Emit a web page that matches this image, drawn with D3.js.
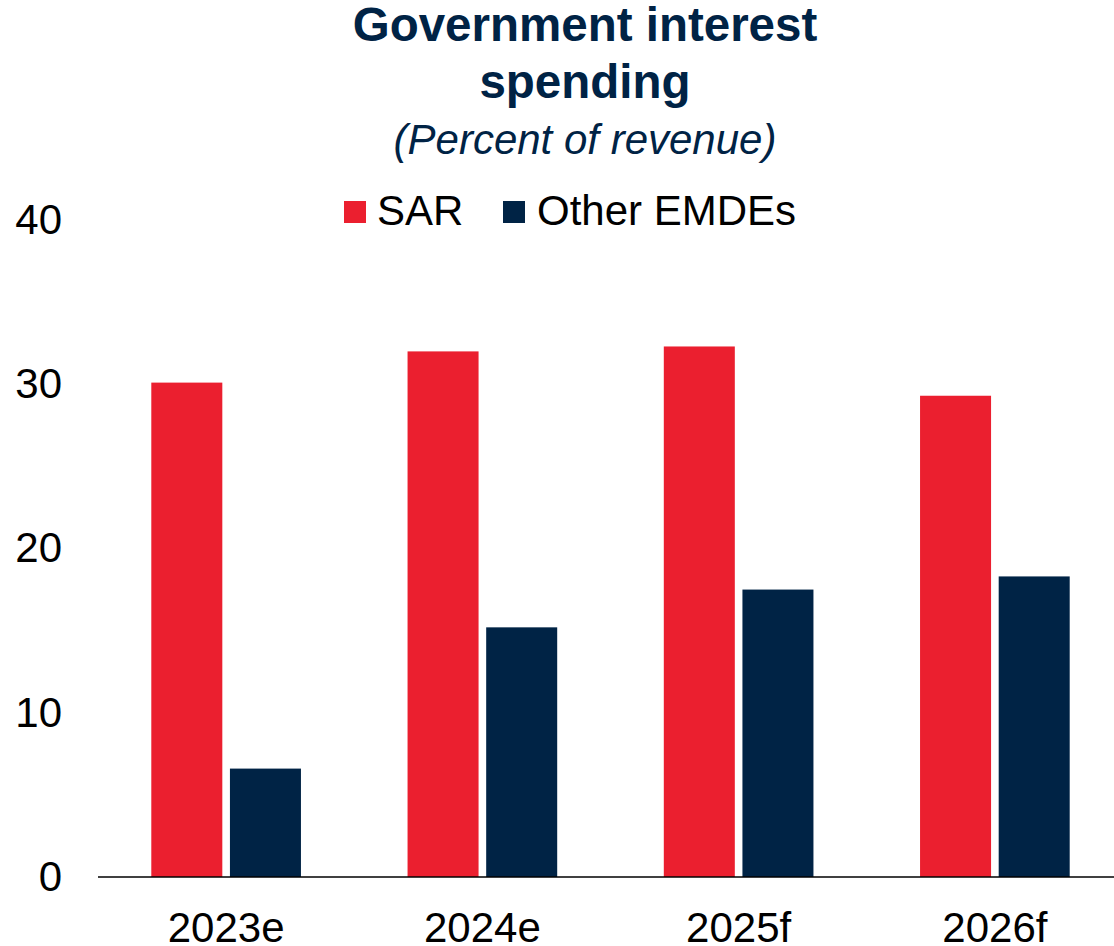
<!DOCTYPE html>
<html>
<head>
<meta charset="utf-8">
<script src="https://cdn.jsdelivr.net/npm/d3@7"></script>
<style>
  html, body { margin: 0; padding: 0; background: #fff; }
  svg { display: block; font-family: "Liberation Sans", Arial, sans-serif; }
</style>
</head>
<body>
<svg id="chart" width="1114" height="946"></svg>
<script>
// Government interest spending, percent of revenue
const categories = ["2023e", "2024e", "2025f", "2026f"];
const seriesNames = ["SAR", "Other EMDEs"];
const sarValues = [30.1, 32.0, 32.3, 29.3];
const otherValues = [6.6, 15.2, 17.5, 18.3];
const yTicks = [0, 10, 20, 30, 40];
const colors = ["#EB1F2F", "#002345"];

const rows = categories.map((c, i) => ({ category: c, values: [sarValues[i], otherValues[i]] }));

const svg = d3.select("#chart");
const navy = "#002345";

// Scales
const x0 = d3.scaleBand().domain(categories).range([98, 1123]).paddingInner(0.416).paddingOuter(0.208);
const x1 = d3.scaleBand().domain(seriesNames).range([0, x0.bandwidth()]).paddingInner(0.097);
const y = d3.scaleLinear().domain([0, 40]).range([877, 220]);

// Title block
const title = svg.append("g").attr("text-anchor", "middle").attr("fill", navy);
title.append("text").attr("x", 585).attr("y", 41).attr("font-size", 47.5).attr("font-weight", "bold").text("Government interest");
title.append("text").attr("x", 585).attr("y", 98).attr("font-size", 47.5).attr("font-weight", "bold").text("spending");
title.append("text").attr("x", 585).attr("y", 154).attr("font-size", 42).attr("font-style", "italic").text("(Percent of revenue)");

// Legend
const legendItems = [
  { name: seriesNames[0], sx: 344, tx: 377 },
  { name: seriesNames[1], sx: 503, tx: 537 }
];
const legend = svg.append("g");
legendItems.forEach((d, i) => {
  legend.append("rect").attr("x", d.sx).attr("y", 201).attr("width", 22).attr("height", 22).attr("fill", colors[i]);
  legend.append("text").attr("x", d.tx).attr("y", 225).attr("font-size", 42).attr("fill", "#000").text(d.name);
});

// Bars
const groups = svg.append("g").selectAll("g").data(rows).join("g")
  .attr("transform", d => `translate(${x0(d.category)},0)`);
groups.selectAll("rect").data(d => d.values.map((v, i) => ({ key: seriesNames[i], value: v, i })))
  .join("rect")
  .attr("x", d => x1(d.key))
  .attr("y", d => y(d.value))
  .attr("width", x1.bandwidth())
  .attr("height", d => y(0) - y(d.value))
  .attr("fill", d => colors[d.i]);

// Y axis labels (no axis line, no ticks)
const yAxis = svg.append("g").attr("transform", "translate(62,0)")
  .call(d3.axisLeft(y).tickValues(yTicks).tickSize(0).tickPadding(0).tickFormat(d3.format("d")));
yAxis.select(".domain").remove();
yAxis.selectAll("text").attr("font-size", 42).attr("fill", "#000").attr("font-family", "Liberation Sans, Arial, sans-serif");

// X axis baseline and category labels
const xAxis = svg.append("g").attr("transform", `translate(0,${y(0)})`)
  .call(d3.axisBottom(x0).tickSize(0).tickPadding(0));
xAxis.select(".domain").remove();
xAxis.selectAll("text").attr("font-size", 42).attr("fill", "#000")
  .attr("font-family", "Liberation Sans, Arial, sans-serif")
  .attr("dy", null).attr("y", 942 - y(0));
svg.append("line").attr("x1", 98).attr("x2", 1114).attr("y1", y(0)).attr("y2", y(0))
  .attr("stroke", "#000").attr("stroke-width", 1.5);
</script>
</body>
</html>
